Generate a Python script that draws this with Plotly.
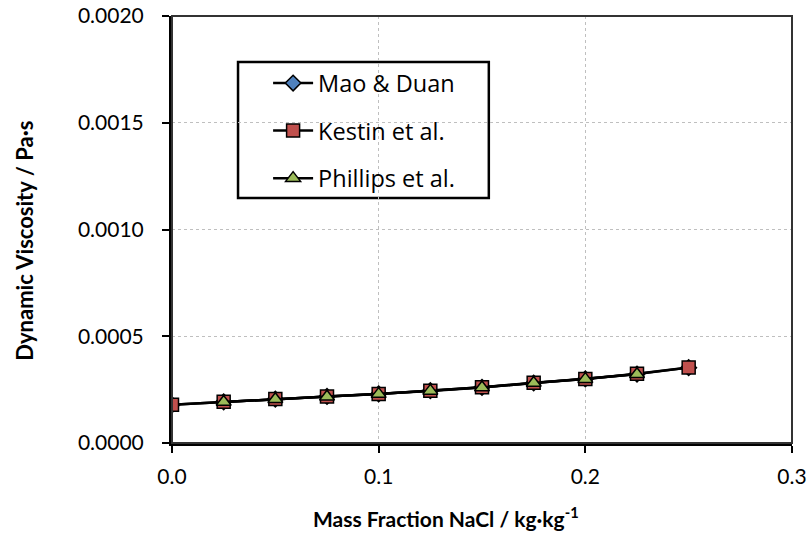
import plotly.graph_objects as go

# Data
x_mao = [0.0, 0.025, 0.05, 0.075, 0.1, 0.125, 0.15, 0.175, 0.2, 0.225, 0.25]
y_mao = [0.000179, 0.000193, 0.000206, 0.000218, 0.000230, 0.000245, 0.000261, 0.000281, 0.000300, 0.000323, 0.000353]

x_kestin = [0.0, 0.025, 0.05, 0.075, 0.1, 0.125, 0.15, 0.175, 0.2, 0.225, 0.25]
y_kestin = [0.000179, 0.000193, 0.000206, 0.000218, 0.000230, 0.000245, 0.000261, 0.000282, 0.000300, 0.000324, 0.000354]

x_phillips = [0.025, 0.05, 0.075, 0.1, 0.125, 0.15, 0.175, 0.2, 0.225]
y_phillips = [0.000192, 0.000205, 0.000217, 0.000229, 0.000244, 0.000260, 0.000281, 0.000299, 0.000322]

x_title = "<b>Mass Fraction NaCl / kg·kg<sup>-1</sup></b>"
y_title = "<b>Dynamic Viscosity / Pa·s</b>"

FONT = "Lato, 'Open Sans', sans-serif"
LEG_FONT = "'Open Sans', Lato, sans-serif"

fig = go.Figure()
fig.add_trace(go.Scatter(
    x=x_mao, y=y_mao, name="Mao & Duan", mode="lines+markers",
    line=dict(color="black", width=2.5),
    marker=dict(symbol="diamond", size=12, color="#4F81BD", line=dict(color="black", width=1.5)),
    legendgroup="a"))
fig.add_trace(go.Scatter(
    x=x_kestin, y=y_kestin, name="Kestin et al.", mode="lines+markers",
    line=dict(color="black", width=2.5),
    marker=dict(symbol="square", size=13, color="#C0504D", line=dict(color="black", width=1.5)),
    legendgroup="b"))
fig.add_trace(go.Scatter(
    x=x_phillips, y=y_phillips, name="Phillips et al.", mode="lines+markers",
    line=dict(color="black", width=2.5),
    marker=dict(symbol="triangle-up", size=13, color="#9BBB59", line=dict(color="black", width=1.5)),
    legendgroup="c"))

fig.update_layout(
    width=812, height=539,
    margin=dict(l=172, r=20, t=16, b=96, autoexpand=False),
    paper_bgcolor="white", plot_bgcolor="white",
    font=dict(family=FONT, size=21, color="black"),
    showlegend=True,
    legend=dict(
        x=0.155, y=0.894, xanchor="left", yanchor="top",
        borderwidth=0, bgcolor="rgba(0,0,0,0)",
        font=dict(size=23.5, family=LEG_FONT), tracegroupgap=14,
        itemwidth=40,
    ),
    shapes=[
        dict(type="rect", xref="paper", yref="paper", x0=0, y0=0, x1=1, y1=1,
             line=dict(color="#333333", width=2), layer="above"),
        dict(type="rect", xref="paper", yref="paper", x0=0.1065, y0=0.574, x1=0.511, y1=0.892,
             line=dict(color="black", width=2.5), fillcolor="white", layer="below"),
    ],
    annotations=[
        dict(text=x_title, xref="paper", yref="paper", x=0.442, y=-0.173,
             xanchor="center", yanchor="middle", showarrow=False, font=dict(size=21)),
        dict(text=y_title, xref="paper", yref="paper", x=-0.237, y=0.474, textangle=-90,
             xanchor="center", yanchor="middle", showarrow=False, font=dict(size=22)),
    ],
)
fig.update_xaxes(
    range=[0, 0.3], dtick=0.1, tickformat=".1f",
    showgrid=True, gridcolor="#bfbfbf", griddash="dot", gridwidth=1,
    showline=True, linecolor="black", linewidth=3,
    ticks="outside", ticklen=7, tickwidth=2, tickcolor="black",
    ticklabelstandoff=6, automargin=False,
    zeroline=False,
)
fig.update_yaxes(
    range=[0, 0.002], dtick=0.0005, tickformat=".4f",
    showgrid=True, gridcolor="#bfbfbf", griddash="dot", gridwidth=1,
    showline=True, linecolor="black", linewidth=3,
    ticks="outside", ticklen=7, tickwidth=2, tickcolor="black",
    ticklabelstandoff=14, automargin=False,
    zeroline=False,
)

fig.write_html("out.html")
